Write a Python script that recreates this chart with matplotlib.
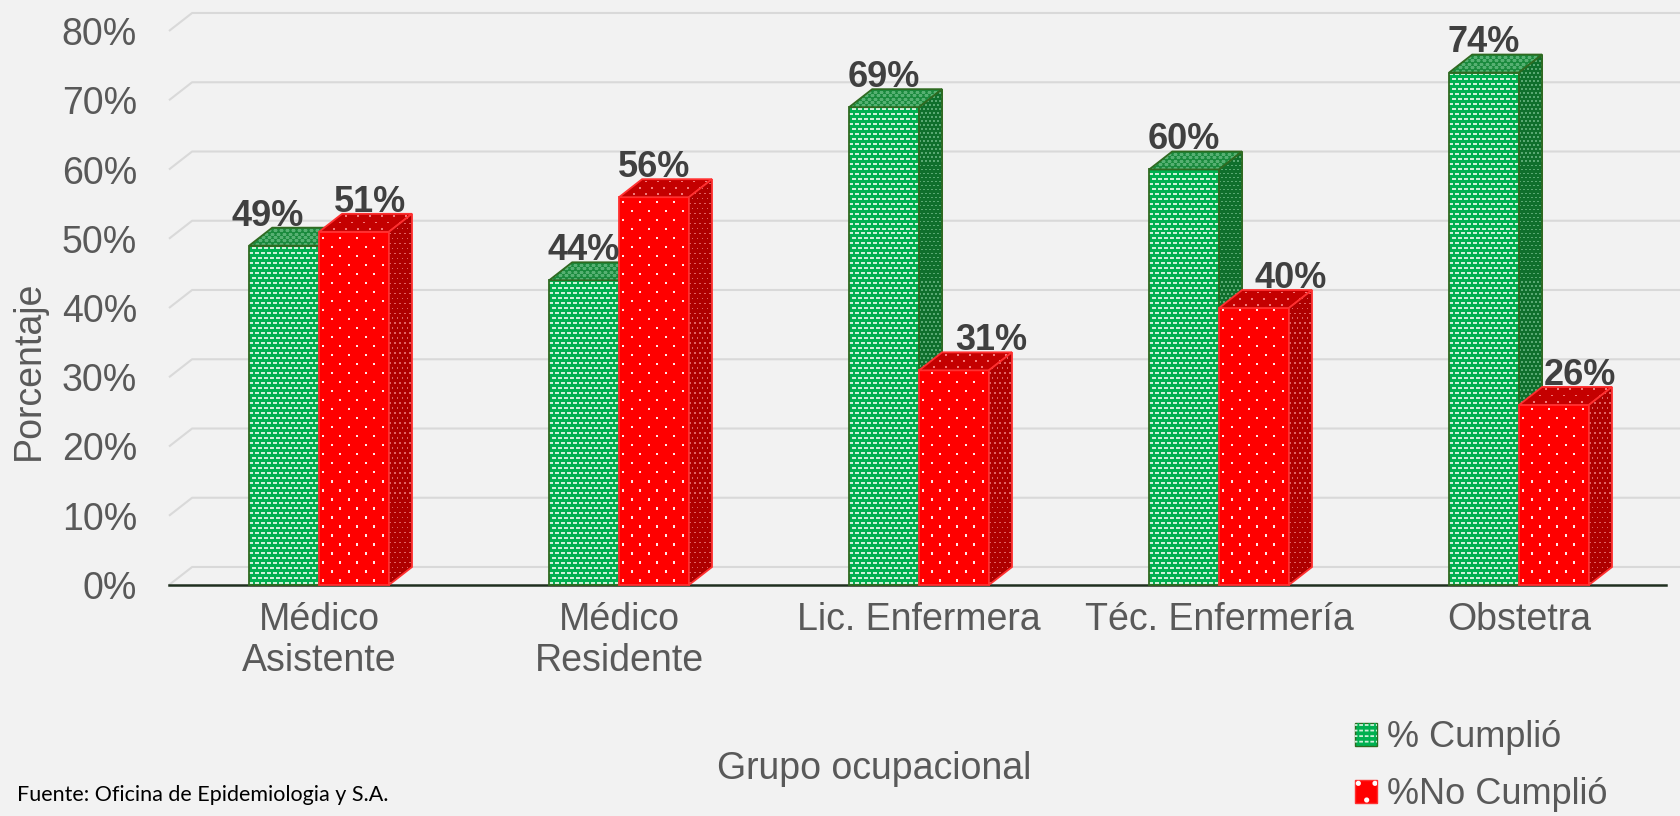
import numpy as np
import matplotlib
matplotlib.use("Agg")
import matplotlib.pyplot as plt
from matplotlib.patches import Polygon, Patch
from matplotlib.legend_handler import HandlerTuple

plt.rcParams['font.family'] = ['Liberation Sans', 'DejaVu Sans']
plt.rcParams['hatch.linewidth'] = 1.3

# data
groups = ['Médico\nAsistente', 'Médico\nResidente', 'Lic. Enfermera',
          'Téc. Enfermería', 'Obstetra']
cumplio = [49, 44, 69, 60, 74]
no_cumplio = [51, 56, 31, 40, 26]
yticks = [0, 10, 20, 30, 40, 50, 60, 70, 80]

W, H = 1681, 816
fig = plt.figure(figsize=(W / 100, H / 100), dpi=100, facecolor='#f2f2f2')
ax = fig.add_axes([169 / W, 231 / H, 1500 / W, 554 / H])
ax.set_facecolor('none')
ax.set_xlim(-0.5, 4.5)
ax.set_ylim(0, 80)

# pseudo-3d depth offsets (data units) and bar width
DX, DY, BW = 0.077, 2.6, 0.233

# face styles: fill colour, (pattern step x, step y, marker, colour, size, lw)
GREEN = dict(front=('#00b050', (0.02, 0.72, '_', '#cdf0d9', 8.5, 1.25)),
             top=('#1a8a3d', (0.02, 0.5, '_', '#56b072', 6, 1.0)),
             side=('#0f6f2c', (0.0133, 0.58, 's', '#58a872', 1.2, 0)),
             edge='#2f6a21')
RED = dict(front=('#ff0000', (0.0567, 1.3, 's', '#ffe6e6', 2.2, 0)),
           top=('#c40000', (0.04, 0.9, 's', '#f27a7a', 1.6, 0)),
           side=('#ae0000', (0.0167, 0.72, 's', '#e06464', 1.2, 0)),
           edge='#ff3030')


def face(pts, fc, pat, ec, z):
    poly = Polygon(pts, closed=True, facecolor=fc, edgecolor='none',
                   zorder=z, clip_on=False)
    ax.add_patch(poly)
    sx, sy, mk, mc, ms, mlw = pat
    xs = [p[0] for p in pts]
    ys = [p[1] for p in pts]
    px, py = [], []
    for k, yy in enumerate(np.arange(min(ys) + sy / 2, max(ys), sy)):
        off = sx / 2 if k % 2 else 0
        xx = np.arange(min(xs) + sx / 4 + off, max(xs), sx)
        px.extend(xx)
        py.extend([yy] * len(xx))
    sc = ax.scatter(px, py, marker=mk, s=ms, c=mc, linewidths=mlw,
                    edgecolors=mc if mlw else 'none', zorder=z)
    sc.set_clip_path(poly)
    ax.add_patch(Polygon(pts, closed=True, fill=False, edgecolor=ec, lw=1.3,
                         zorder=z, clip_on=False, joinstyle='miter'))


def bar3d(x0, h, sty, z):
    front = [(x0, 0), (x0 + BW, 0), (x0 + BW, h), (x0, h)]
    top = [(x0, h), (x0 + BW, h), (x0 + BW + DX, h + DY), (x0 + DX, h + DY)]
    side = [(x0 + BW, 0), (x0 + BW + DX, DY), (x0 + BW + DX, h + DY), (x0 + BW, h)]
    face(front, *sty['front'], sty['edge'], z)
    face(top, *sty['top'], sty['edge'], z)
    face(side, *sty['side'], sty['edge'], z)


# back wall gridlines
for v in yticks:
    ax.plot([-0.5, -0.5 + DX, 4.65], [v, v + DY, v + DY], color='#d9d9d9',
            lw=1.5, clip_on=False, zorder=0.5, solid_capstyle='butt')
ax.plot([-0.5, 4.49], [0, 0], color='#1f2f1f', lw=1.8, zorder=1, clip_on=False)

# label shifts Excel applied to avoid collisions
green_shift = [-0.055, 0, 0, 0, 0]
red_shift = [0.053, 0, 0.123, 0.123, 0.088]
for i, (g, r) in enumerate(zip(cumplio, no_cumplio)):
    z = 2 + i
    bar3d(i - BW, g, GREEN, z)
    bar3d(i, r, RED, z + 0.1)
    ax.text(i - BW / 2 + green_shift[i], g + DY + 0.3, f'{g}%', ha='center',
            va='baseline', fontsize=26, fontweight='bold', color='#404040',
            zorder=20)
    ax.text(i + BW / 2 + red_shift[i], r + DY + 0.3, f'{r}%', ha='center',
            va='baseline', fontsize=26, fontweight='bold', color='#404040',
            zorder=20)

for s in ax.spines.values():
    s.set_visible(False)
ax.set_yticks(yticks)
ax.set_yticklabels([f'{v}%' for v in yticks])
ax.tick_params(axis='y', length=0, pad=23, labelsize=27, labelcolor='#595959')
ax.set_xticks(range(len(groups)))
ax.set_xticklabels(groups, linespacing=1.18)
ax.tick_params(axis='x', length=0, pad=12, labelsize=27, labelcolor='#595959')

fig.text(29 / W, 1 - 370 / H, 'Porcentaje', rotation=90, ha='center',
         va='center', fontsize=27, color='#595959')
fig.text(874 / W, 1 - 769 / H, 'Grupo ocupacional', ha='center', va='center',
         fontsize=27, color='#595959')
fig.text(17 / W, 1 - 795 / H, 'Fuente: Oficina de Epidemiologia y S.A.',
         ha='left', va='center', fontsize=15.5, color='black', family='Lato')

h_green = (Patch(facecolor='#00b050', edgecolor='#2f6a21'),
           Patch(fill=False, edgecolor='#cdf0d9', hatch='---', lw=0),
           Patch(fill=False, edgecolor='#00b050', hatch='|||', lw=0))
h_red = (Patch(facecolor='#ff0000', edgecolor='#ff3030'),
         Patch(fill=False, edgecolor='white', hatch='.', lw=0))
fig.legend([h_green, h_red], ['% Cumplió', '%No Cumplió'],
           handler_map={tuple: HandlerTuple(ndivide=1)},
           loc='lower left', bbox_to_anchor=(1355 / W, 4 / H),
           frameon=False, fontsize=26, labelcolor='#595959',
           handlelength=0.6, handleheight=0.6, handletextpad=0.3,
           labelspacing=0.6, borderpad=0, borderaxespad=0)

fig.savefig('out.png', dpi=100, facecolor=fig.get_facecolor())
